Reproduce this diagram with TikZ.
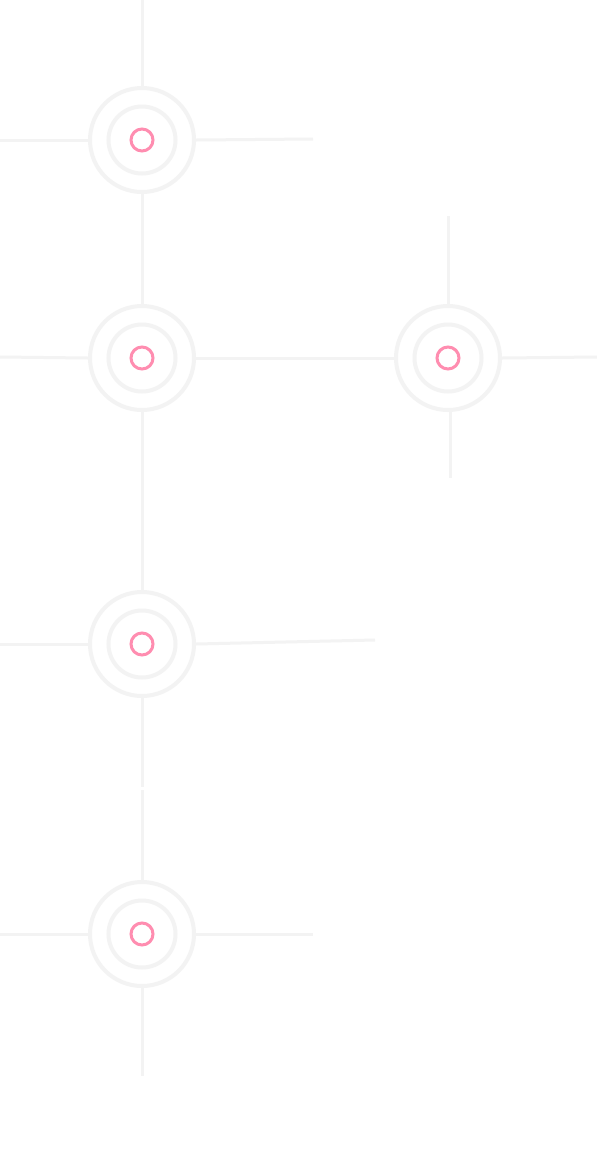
\documentclass[tikz,border=0pt]{standalone}
\definecolor{ringgray}{HTML}{F3F3F3}
\definecolor{dotpink}{HTML}{FF8DB0}
\begin{document}
\begin{tikzpicture}[x=1pt,y=-1pt,
  outerring/.style={circle,draw=ringgray,line width=4pt,minimum size=104pt,inner sep=0pt},
  innerring/.style={circle,draw=ringgray,line width=4pt,minimum size=67pt,inner sep=0pt},
  pinkdot/.style={circle,draw=dotpink,line width=3pt,minimum size=22pt,inner sep=0pt},
  link/.style={draw=ringgray,line width=3pt}]
\fill[white] (0,0) rectangle (597,1171);
\useasboundingbox (0,0) rectangle (597,1171);
\foreach \n/\x/\y in {a/142/140,b/142/358,c/448/358,d/142/644,e/142/934}{
  \node[outerring] (\n) at (\x,\y) {};
  \node[innerring] (\n i) at (\x,\y) {};
  \node[pinkdot] (\n p) at (\x,\y) {};
}
\coordinate (a0) at (142,0);
\coordinate (aL) at (0,140);
\coordinate (aR) at (313,139);
\coordinate (bL) at (0,357);
\coordinate (cT) at (448,216);
\coordinate (cR) at (597,357);
\coordinate (cB) at (450,478);
\coordinate (dL) at (0,644);
\coordinate (dR) at (375,640);
\coordinate (dB) at (142,787);
\coordinate (eT) at (142,790);
\coordinate (eL) at (0,934);
\coordinate (eR) at (313,934);
\coordinate (eB) at (142,1076);
\draw[link] (a0) -- (a.north);
\draw[link] (aL) -- (a.west);
\draw[link] (a.east) -- (aR);
\draw[link] (a.south) -- (b.north);
\draw[link] (bL) -- (b.west);
\draw[link] (b.east) -- (c.west);
\draw[link] (cT) -- (c.north);
\draw[link] (c.east) -- (cR);
\draw[link] (c.south -| cB) -- (cB);
\draw[link] (b.south) -- (d.north);
\draw[link] (dL) -- (d.west);
\draw[link] (d.east) -- (dR);
\draw[link] (d.south) -- (dB);
\draw[link] (eT) -- (e.north);
\draw[link] (eL) -- (e.west);
\draw[link] (e.east) -- (eR);
\draw[link] (e.south) -- (eB);
\end{tikzpicture}
\end{document}
